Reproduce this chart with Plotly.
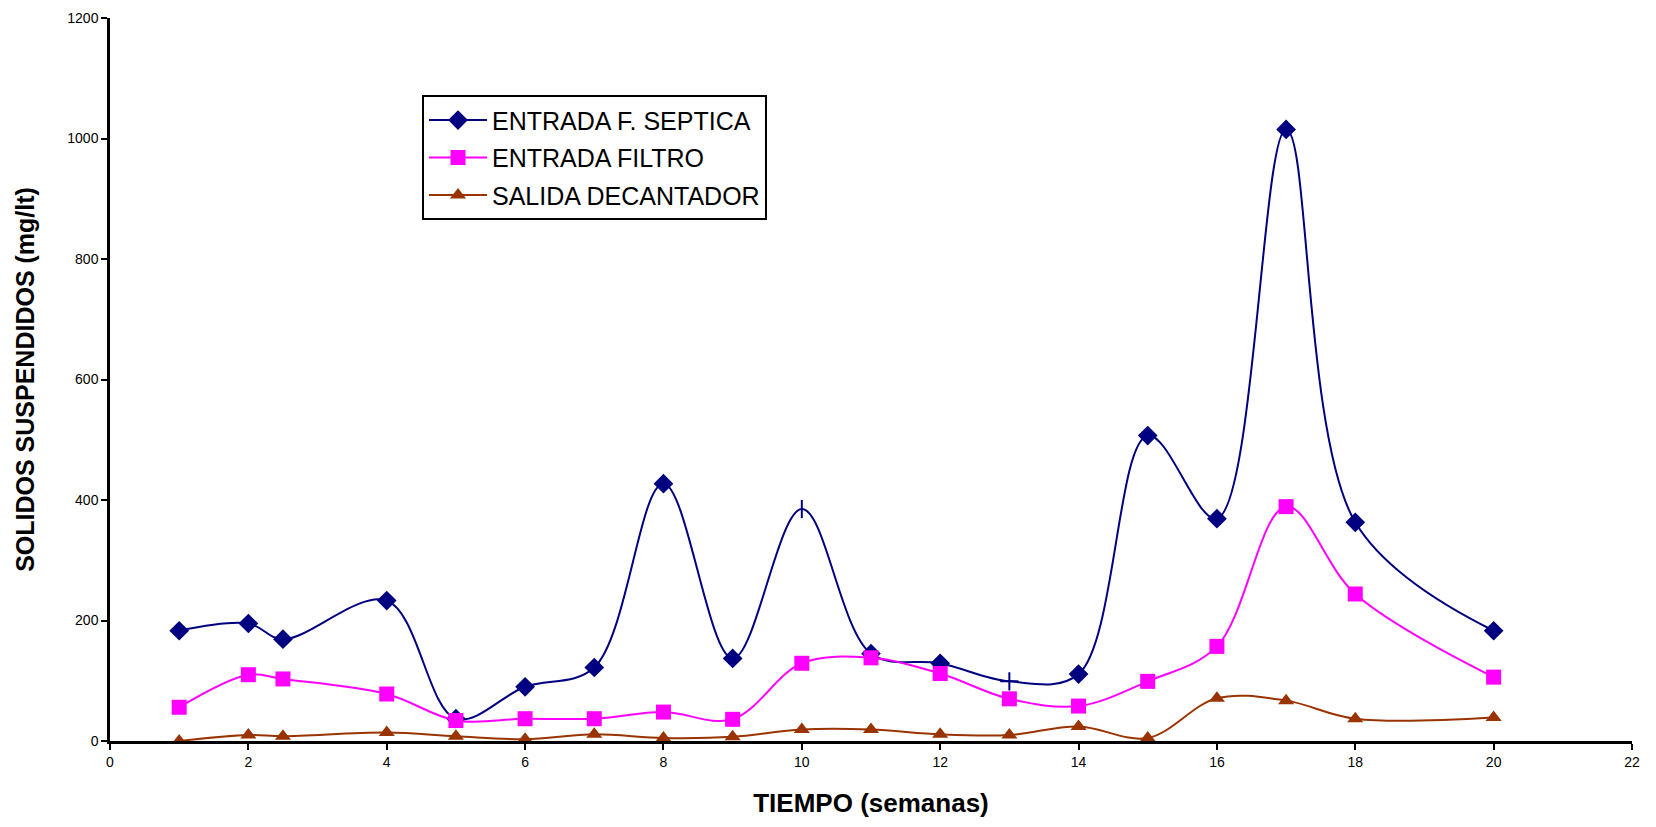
import plotly.graph_objects as go

# Semanas de muestreo
semanas = [1, 2, 2.5, 4, 5, 6, 7, 8, 9, 10, 11, 12, 13, 14, 15, 16, 17, 18, 20]

# Sólidos suspendidos (mg/lt)
entrada_septica = [183, 195, 169, 233, 37, 90, 122, 427, 137, 385, 145, 129, 99, 111, 507, 369, 1015, 363, 183]
entrada_filtro = [56, 110, 103, 78, 34, 37, 37, 48, 36, 129, 138, 112, 70, 58, 99, 157, 389, 244, 106]
salida_decantador = [0, 10, 8, 14, 8, 3, 11, 5, 7, 19, 19, 11, 10, 24, 5, 71, 67, 37, 39]

x_ticks = list(range(0, 23, 2))
y_ticks = list(range(0, 1201, 200))

navy = "#000080"
magenta = "#FF00FF"
marron = "#993300"

simbolos_septica = ["diamond"] * len(semanas)
simbolos_septica[semanas.index(10)] = "line-ns"
simbolos_septica[semanas.index(13)] = "cross-thin"

fig = go.Figure()
fig.add_trace(go.Scatter(
    x=semanas, y=entrada_septica, name="ENTRADA F. SEPTICA", legendgroup="a",
    mode="lines+markers", line=dict(color=navy, width=2, shape="spline", smoothing=1.0),
    marker=dict(symbol=simbolos_septica, size=13, color=navy,
                line=dict(color=navy, width=2)),
))
fig.add_trace(go.Scatter(
    x=semanas, y=entrada_filtro, name="ENTRADA FILTRO", legendgroup="b",
    mode="lines+markers", line=dict(color=magenta, width=2, shape="spline", smoothing=1.0),
    marker=dict(symbol="square", size=15, color=magenta),
))
fig.add_trace(go.Scatter(
    x=semanas, y=salida_decantador, name="SALIDA DECANTADOR", legendgroup="c",
    mode="lines+markers", line=dict(color=marron, width=2, shape="spline", smoothing=1.0),
    marker=dict(symbol="triangle-up", size=14, color=marron),
))

fig.update_layout(
    width=1656, height=827,
    margin=dict(l=110, r=24, t=10, b=86),
    paper_bgcolor="white", plot_bgcolor="white",
    font=dict(family="Liberation Sans, Arial, sans-serif", color="black"),
    showlegend=True,
    legend=dict(
        x=0.205, y=0.893, xanchor="left", yanchor="top",
        bgcolor="white", bordercolor="black", borderwidth=2,
        font=dict(size=25, color="black"), itemwidth=58,
        tracegroupgap=2,
    ),
)
fig.update_xaxes(
    range=[0, 22], tickvals=x_ticks, ticktext=[str(v) for v in x_ticks],
    showline=True, linecolor="black", linewidth=2.5, showgrid=False, zeroline=False,
    ticks="outside", ticklen=6, tickwidth=2, tickcolor="black",
    tickfont=dict(size=14),
    title=dict(text="<b>TIEMPO (semanas)</b>", font=dict(size=26), standoff=26),
)
fig.update_yaxes(
    range=[0, 1200], tickvals=y_ticks, ticktext=[str(v) for v in y_ticks],
    showline=True, linecolor="black", linewidth=2.5, showgrid=False, zeroline=False,
    ticks="outside", ticklen=6, tickwidth=2, tickcolor="black",
    tickfont=dict(size=14),
    title=dict(text="<b>SOLIDOS SUSPENDIDOS (mg/lt)</b>", font=dict(size=25), standoff=26),
)

fig.write_html("out.html")
